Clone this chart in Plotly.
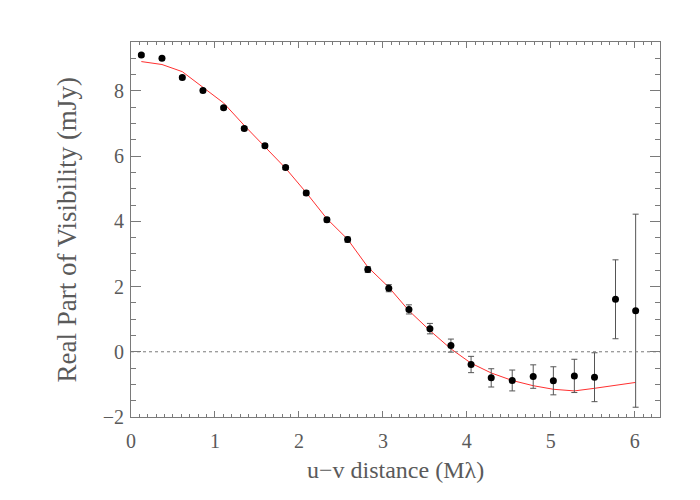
import plotly.graph_objects as go

# uv distance (M lambda) of the binned points
uv_dist = [0.123, 0.369, 0.611, 0.857, 1.103, 1.349, 1.595, 1.841, 2.087, 2.333,
           2.58, 2.82, 3.07, 3.31, 3.56, 3.81, 4.05, 4.29, 4.54, 4.79,
           5.03, 5.28, 5.52, 5.77, 6.01]
# real part of visibility (mJy)
vis_real = [9.10, 9.00, 8.41, 8.01, 7.48, 6.85, 6.32, 5.65, 4.87, 4.05,
            3.44, 2.52, 1.95, 1.30, 0.71, 0.19, -0.39, -0.80, -0.88, -0.76,
            -0.89, -0.74, -0.78, 1.61, 1.26]
vis_err = [0.04, 0.04, 0.05, 0.05, 0.05, 0.06, 0.06, 0.06, 0.07, 0.07,
           0.08, 0.09, 0.11, 0.14, 0.16, 0.20, 0.25, 0.28, 0.32, 0.36,
           0.43, 0.51, 0.75, 1.21, 2.96]
# model curve at the same uv distances
model_real = [8.90, 8.81, 8.59, 8.12, 7.63, 6.94, 6.30, 5.63, 4.88, 4.08,
              3.45, 2.60, 1.98, 1.26, 0.65, 0.09, -0.35, -0.65, -0.88, -1.04,
              -1.15, -1.20, -1.12, -1.03, -0.94]

FONT = "Liberation Serif"
GREY = "#5a5a5a"
FRAME = "#7a7a7a"

fig = go.Figure()

# zero level
fig.add_shape(type="line", xref="paper", x0=0, x1=1, yref="y", y0=0, y1=0,
              line=dict(color=FRAME, width=1, dash="dot"))

fig.add_trace(go.Scatter(
    x=uv_dist, y=model_real, mode="lines",
    line=dict(color="#ff3030", width=1),
    showlegend=False, hoverinfo="skip"
))

fig.add_trace(go.Scatter(
    x=uv_dist, y=vis_real, mode="markers",
    marker=dict(color="black", size=7),
    error_y=dict(type="data", array=vis_err, color="#555555", thickness=1, width=3),
    showlegend=False
))

axis_common = dict(
    showline=True, linecolor=FRAME, linewidth=1, mirror="ticks",
    ticks="inside", tickcolor=FRAME, tickwidth=1,
    showgrid=False, zeroline=False,
    tickfont=dict(family=FONT, size=20, color=GREY),
)

fig.update_xaxes(
    range=[0, 6.3], tick0=0, dtick=1, ticklen=6, ticklabelstandoff=6,
    minor=dict(ticks="inside", dtick=0.1, ticklen=3, tickcolor=FRAME, showgrid=False),
    **axis_common
)
fig.update_yaxes(
    range=[-2, 9.5], tick0=0, dtick=2, ticklen=10, ticklabelstandoff=2,
    minor=dict(ticks="inside", dtick=0.5, ticklen=5, tickcolor=FRAME, showgrid=False),
    **axis_common
)

fig.add_annotation(text="u\u2212v distance (M\u03bb)", xref="paper", yref="paper",
                   x=0.5, y=-0.142, yanchor="middle", showarrow=False,
                   font=dict(family=FONT, size=24, color=GREY))
fig.add_annotation(text="Real Part of Visibility (mJy)", xref="paper", yref="paper",
                   x=-0.121, xanchor="center", y=0.5, yanchor="middle", textangle=-90,
                   showarrow=False, font=dict(family=FONT, size=27, color=GREY))

# the page body adds an 8px offset, so the margins are shifted to compensate
fig.update_layout(
    width=700, height=500,
    margin=dict(l=123, r=48, t=34, b=91),
    paper_bgcolor="white", plot_bgcolor="white",
)

fig.write_html("out.html")
